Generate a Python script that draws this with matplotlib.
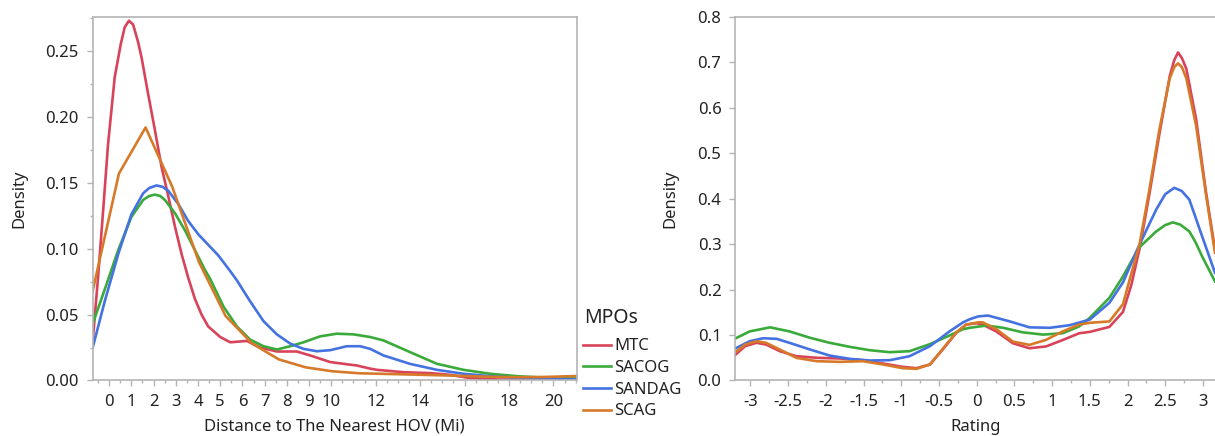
import numpy as np
import matplotlib
matplotlib.use("Agg")
import matplotlib.pyplot as plt
from matplotlib.lines import Line2D
from matplotlib.ticker import FixedLocator, MultipleLocator

plt.rcParams['font.family'] = ['Noto Sans', 'DejaVu Sans']

groups = ['MTC', 'SACOG', 'SANDAG', 'SCAG']
colors = ['#d8435a', '#3aaa3a', '#4472e0', '#d67a2a']

# distance to the nearest HOV (left panel), density readings per MPO
dist_mtc_x = [-0.74, -0.5, -0.27, -0.05, 0.25, 0.52, 0.70, 0.89, 1.08, 1.3, 1.46, 1.76,
              2.06, 2.36, 2.66, 2.96, 3.26, 3.56, 3.86, 4.16, 4.46, 5.0, 5.45, 6.2, 6.8,
              7.55, 8.45, 9.05, 9.95, 10.85, 11.15, 11.75, 12.05, 13.25, 14.45, 15.35,
              16.25, 17.45, 18.65, 21.04]
dist_mtc_y = [0.030, 0.078, 0.129, 0.179, 0.230, 0.255, 0.268, 0.273, 0.270, 0.257, 0.245,
              0.217, 0.190, 0.162, 0.140, 0.117, 0.096, 0.078, 0.062, 0.050, 0.041, 0.033,
              0.029, 0.030, 0.025, 0.022, 0.022, 0.019, 0.014, 0.012, 0.0114, 0.009, 0.0081,
              0.0063, 0.0056, 0.0043, 0.0018, 0.0008, 0.0005, 0.0008]
dist_sacog_x = [-0.74, -0.2, 0.41, 1.0, 1.53, 1.8, 2.06, 2.3, 2.51, 2.96, 3.41, 3.86, 4.31,
                4.55, 5.15, 5.75, 6.35, 6.95, 7.55, 8.15, 8.75, 9.5, 10.25, 11.0, 11.75,
                12.35, 13.55, 14.75, 15.95, 17.15, 18.35, 19.56, 21.04]
dist_sacog_y = [0.043, 0.069, 0.099, 0.124, 0.137, 0.140, 0.141, 0.140, 0.137, 0.127, 0.114,
                0.099, 0.084, 0.077, 0.056, 0.041, 0.031, 0.026, 0.0235, 0.026, 0.029, 0.0335,
                0.0355, 0.035, 0.033, 0.0304, 0.0215, 0.0127, 0.0081, 0.0051, 0.0033, 0.0022,
                0.0015]
dist_sandag_x = [-0.74, -0.2, 0.41, 1.0, 1.53, 1.8, 2.13, 2.4, 2.66, 3.11, 3.56, 4.01, 4.46,
                 4.91, 5.45, 5.75, 6.35, 6.95, 7.55, 8.15, 8.75, 9.35, 9.95, 10.7, 11.3,
                 11.75, 12.35, 13.55, 14.75, 15.95, 17.15, 18.35, 19.86, 21.04]
dist_sandag_y = [0.025, 0.060, 0.096, 0.126, 0.142, 0.146, 0.148, 0.147, 0.144, 0.134, 0.121,
                 0.111, 0.103, 0.095, 0.083, 0.076, 0.060, 0.045, 0.035, 0.028, 0.024,
                 0.0222, 0.023, 0.026, 0.026, 0.024, 0.019, 0.0126, 0.0081, 0.0051, 0.0033,
                 0.002, 0.001, 0.0008]
dist_scag_x = [-0.74, 0.44, 1.64, 2.84, 4.04, 5.24, 6.44, 7.64, 8.84, 10.04, 11.24, 12.44,
               13.64, 14.84, 16.04, 17.24, 18.44, 19.64, 20.84, 21.04]
dist_scag_y = [0.068, 0.157, 0.192, 0.147, 0.090, 0.049, 0.028, 0.016, 0.010, 0.007, 0.0055,
               0.005, 0.0045, 0.004, 0.0034, 0.0028, 0.0025, 0.0027, 0.0033, 0.0034]

# rating (right panel)
rate_mtc_x = [-3.21, -3.07, -2.92, -2.79, -2.61, -2.39, -2.12, -1.81, -1.51, -1.24, -0.98,
              -0.80, -0.62, -0.45, -0.27, -0.14, 0.0, 0.08, 0.26, 0.48, 0.70, 0.92, 1.14,
              1.36, 1.5, 1.76, 1.94, 2.05, 2.16, 2.29, 2.42, 2.56, 2.62, 2.67, 2.72, 2.78,
              2.91, 3.04, 3.16]
rate_mtc_y = [0.055, 0.0755, 0.083, 0.079, 0.0645, 0.0535, 0.050, 0.0484, 0.0447, 0.0374,
              0.030, 0.0271, 0.0352, 0.0682, 0.105, 0.123, 0.126, 0.123, 0.108, 0.082, 0.071,
              0.075, 0.089, 0.104, 0.107, 0.118, 0.151, 0.21, 0.29, 0.41, 0.54, 0.67, 0.705,
              0.722, 0.71, 0.686, 0.575, 0.415, 0.288]
rate_sacog_x = [-3.21, -3.01, -2.74, -2.48, -2.21, -1.95, -1.68, -1.42, -1.15, -0.89, -0.62,
                -0.36, -0.18, -0.09, 0.13, 0.35, 0.61, 0.88, 1.14, 1.36, 1.5, 1.76, 1.94,
                2.15, 2.38, 2.5, 2.6, 2.7, 2.82, 2.9, 2.99, 3.16]
rate_sacog_y = [0.0916, 0.108, 0.117, 0.108, 0.094, 0.083, 0.074, 0.0667, 0.0623, 0.0645,
                0.080, 0.099, 0.113, 0.116, 0.121, 0.116, 0.106, 0.101, 0.104, 0.119, 0.138,
                0.182, 0.229, 0.292, 0.328, 0.342, 0.348, 0.343, 0.328, 0.305, 0.273, 0.218]
rate_sandag_x = [-3.21, -3.01, -2.83, -2.65, -2.48, -2.21, -1.95, -1.68, -1.42, -1.15, -0.89,
                 -0.62, -0.36, -0.18, -0.09, 0.02, 0.15, 0.44, 0.70, 0.97, 1.23, 1.5, 1.76,
                 1.94, 2.15, 2.38, 2.5, 2.62, 2.72, 2.82, 2.9, 2.99, 3.16]
rate_sandag_y = [0.0696, 0.0864, 0.093, 0.0916, 0.0828, 0.0682, 0.0549, 0.0476, 0.044,
                 0.0447, 0.0535, 0.0755, 0.108, 0.128, 0.135, 0.141, 0.143, 0.130, 0.117,
                 0.116, 0.1216, 0.134, 0.171, 0.216, 0.296, 0.376, 0.41, 0.424, 0.417, 0.398,
                 0.36, 0.317, 0.237]
rate_scag_x = [-3.21, -3.07, -2.92, -2.79, -2.61, -2.39, -2.12, -1.81, -1.51, -1.24, -0.98,
               -0.80, -0.62, -0.45, -0.27, -0.14, 0.02, 0.08, 0.26, 0.48, 0.70, 0.92, 1.14,
               1.36, 1.5, 1.76, 1.94, 2.05, 2.16, 2.29, 2.42, 2.56, 2.62, 2.67, 2.72, 2.78,
               2.91, 3.04, 3.16]
rate_scag_y = [0.0608, 0.079, 0.0865, 0.0828, 0.0682, 0.0498, 0.0425, 0.041, 0.0425, 0.0352,
               0.0271, 0.0256, 0.0352, 0.0696, 0.106, 0.123, 0.128, 0.128, 0.113, 0.0857,
               0.0784, 0.0894, 0.108, 0.123, 0.127, 0.130, 0.168, 0.235, 0.30, 0.42, 0.55,
               0.665, 0.69, 0.698, 0.69, 0.665, 0.56, 0.41, 0.281]

dist_ticks = [0, 1, 2, 3, 4, 5, 6, 7, 8, 9, 10, 12, 14, 16, 18, 20]
rate_ticks = [-3, -2.5, -2, -1.5, -1, -0.5, 0, 0.5, 1, 1.5, 2, 2.5, 3]

grey = '#b4b4b4'
txt = '#222222'

fig = plt.figure(figsize=(12.15, 4.36), dpi=100)
ax1 = fig.add_axes([0.0763, 0.1273, 0.3982, 0.8337])
ax2 = fig.add_axes([0.6052, 0.1273, 0.3948, 0.8337])

dist_x = [dist_mtc_x, dist_sacog_x, dist_sandag_x, dist_scag_x]
dist_y = [dist_mtc_y, dist_sacog_y, dist_sandag_y, dist_scag_y]
rate_x = [rate_mtc_x, rate_sacog_x, rate_sandag_x, rate_scag_x]
rate_y = [rate_mtc_y, rate_sacog_y, rate_sandag_y, rate_scag_y]

for i in range(4):
    ax1.plot(dist_x[i], dist_y[i], color=colors[i], lw=1.9, solid_joinstyle='round')
    ax2.plot(rate_x[i], rate_y[i], color=colors[i], lw=1.9, solid_joinstyle='round')

ax1.set_xlim(-0.74, 21.04)
ax1.set_ylim(0, 0.2758)
ax1.xaxis.set_major_locator(FixedLocator(dist_ticks))
ax1.xaxis.set_minor_locator(MultipleLocator(0.5))
ax1.yaxis.set_minor_locator(MultipleLocator(0.025))
ax1.set_yticks(np.arange(0, 0.26, 0.05))
ax1.set_yticklabels([f"{v:.2f}" for v in np.arange(0, 0.26, 0.05)])
ax1.set_xlabel('Distance to The Nearest HOV (Mi)', fontsize=12, color=txt)
ax1.set_ylabel('Density', fontsize=12, color=txt)
ax1.xaxis.set_label_coords(0.5, -0.105)
ax1.yaxis.set_label_coords(-0.136, 0.5)

ax2.set_xlim(-3.2, 3.16)
ax2.set_ylim(0, 0.8)
ax2.xaxis.set_major_locator(FixedLocator(rate_ticks))
ax2.xaxis.set_minor_locator(MultipleLocator(0.25))
ax2.set_yticks(np.arange(0, 0.81, 0.1))
ax2.set_xticklabels([f"{v:g}" for v in rate_ticks])
ax2.set_yticklabels([f"{v:.1f}" for v in np.arange(0, 0.81, 0.1)])
ax2.set_xlabel('Rating', fontsize=12, color=txt)
ax2.set_ylabel('Density', fontsize=12, color=txt)
ax2.xaxis.set_label_coords(0.5, -0.105)
ax2.yaxis.set_label_coords(-0.119, 0.5)
ax2.spines['right'].set_visible(False)

for ax in (ax1, ax2):
    for s in ax.spines.values():
        s.set_color(grey)
        s.set_linewidth(1.2)
    ax.tick_params(which='major', length=4, width=1, color=grey, labelsize=12,
                   labelcolor=txt, pad=6)
    ax.tick_params(which='minor', length=2.5, width=1, color=grey)

# legend: title drawn separately so the gap under it can match
fig.text(0.4805, 0.271, 'MPOs', fontsize=14, color=txt, va='center', ha='left')
handles = [Line2D([], [], color=c, lw=1.9) for c in colors]
leg = fig.legend(handles, groups, loc='upper left',
                 bbox_to_anchor=(0.4795, 0.224), frameon=False, fontsize=12,
                 handlelength=1.7, handletextpad=0.2,
                 labelspacing=0.34, borderaxespad=0, borderpad=0)
for t in leg.get_texts():
    t.set_color(txt)

fig.savefig('out.png', dpi=100)
